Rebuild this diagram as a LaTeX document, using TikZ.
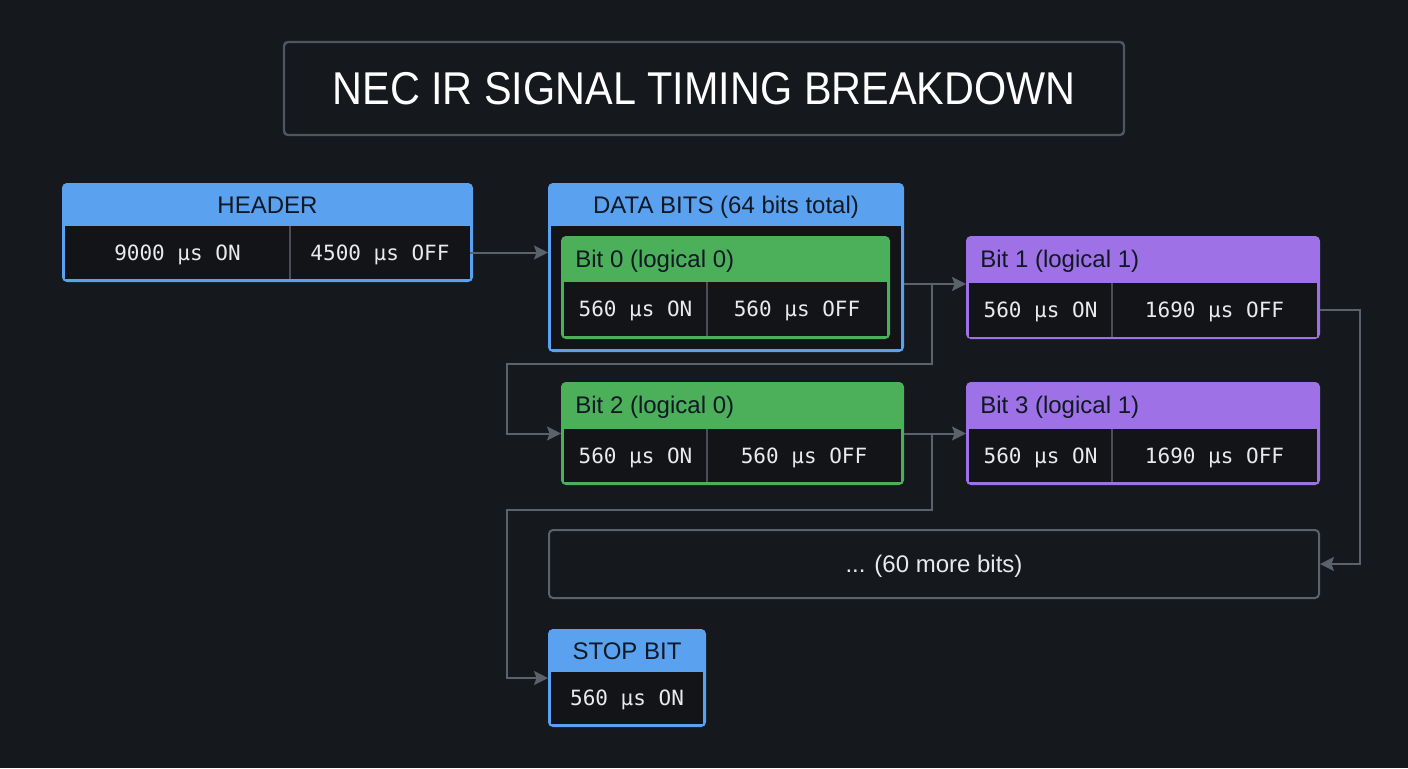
\documentclass[tikz,border=0pt]{standalone}
\usepackage{fontspec}
\setmainfont{Liberation Sans}
\newfontfamily\monof{DejaVu Sans Mono}
\usetikzlibrary{arrows.meta}
\definecolor{bgc}{RGB}{21,24,29}
\definecolor{cellc}{RGB}{18,20,23}
\definecolor{bluec}{RGB}{90,162,240}
\definecolor{greenc}{RGB}{76,175,90}
\definecolor{purplec}{RGB}{158,114,230}
\definecolor{linec}{RGB}{92,98,107}
\definecolor{titleb}{RGB}{80,86,95}
\definecolor{bandtext}{RGB}{16,24,36}
\definecolor{celltext}{RGB}{232,234,237}
\definecolor{divc}{RGB}{74,79,87}
\tikzset{
  outerbox/.style={rounded corners=2pt, line width=1pt, inner sep=0pt},
  cellbox/.style={fill=cellc, inner sep=0pt, text=celltext, text depth=0pt, font=\monof\fontsize{10.5}{12}\selectfont},
  bandlabel/.style={font=\fontsize{12}{14}\selectfont, text=bandtext, inner sep=0pt, text depth=0pt},
  divline/.style={draw=divc, line width=1pt},
  conn/.style={draw=linec, line width=1pt, -{Stealth[length=7pt,width=7pt,inset=1.3pt]}}
}
\begin{document}
\begin{tikzpicture}[x=0.5pt,y=-0.5pt]
\useasboundingbox[fill=bgc] (0,0) rectangle (1408,768);

% title
\node[outerbox, draw=titleb, line width=1.2pt, fill=bgc, minimum width=420pt, minimum height=46.5pt,
  text=white, text depth=0pt, font=\fontsize{23}{26}\selectfont] (title) at (704,88.5)
  {\scalebox{0.9}[1]{NEC IR SIGNAL TIMING BREAKDOWN}};

% HEADER
\node[outerbox, draw=bluec, fill=bluec, minimum width=204.5pt, minimum height=48.5pt] (hdr) at (267.5,232.5) {};
\node[bandlabel] (hdrT) at (267.5,205) {HEADER};
\node[cellbox, minimum width=112.5pt, minimum height=26.5pt] (hdrA) at (177.5,252.5) {9000 µs ON};
\node[cellbox, minimum width=90pt, minimum height=26.5pt] (hdrB) at (380,252.5) {4500 µs OFF};
\draw[divline] (hdrA.north east) -- (hdrA.south east);

% DATA BITS
\node[outerbox, draw=bluec, fill=bluec, minimum width=177pt, minimum height=83.5pt] (data) at (726,267.5) {};
\node[bandlabel] (dataT) at (726,205) {DATA BITS (64 bits total)};
\node[fill=cellc, inner sep=0pt, minimum width=175pt, minimum height=61.5pt] (dataIn) at (726,287.5) {};

% Bit 0
\node[outerbox, draw=greenc, fill=greenc, minimum width=163.5pt, minimum height=50.5pt] (bit0) at (725.5,287.5) {};
\node[bandlabel, anchor=west] (bit0T) at (575,259) {Bit 0 (logical 0)};
\node[cellbox, minimum width=71.5pt, minimum height=27pt] (b0A) at (635.5,309) {560 µs ON};
\node[cellbox, minimum width=90pt, minimum height=27pt] (b0B) at (797,309) {560 µs OFF};
\draw[divline] (b0A.north east) -- (b0A.south east);

% Bit 1
\node[outerbox, draw=purplec, fill=purplec, minimum width=176pt, minimum height=50.5pt] (bit1) at (1143,287.5) {};
\node[bandlabel, anchor=west] (bit1T) at (980,259) {Bit 1 (logical 1)};
\node[cellbox, minimum width=71.5pt, minimum height=27pt] (b1A) at (1040.5,310) {560 µs ON};
\node[cellbox, minimum width=102.5pt, minimum height=27pt] (b1B) at (1214.5,310) {1690 µs OFF};
\draw[divline] (b1A.north east) -- (b1A.south east);

% Bit 2
\node[outerbox, draw=greenc, fill=greenc, minimum width=170.5pt, minimum height=50.5pt] (bit2) at (732.5,433.5) {};
\node[bandlabel, anchor=west] (bit2T) at (575,405) {Bit 2 (logical 0)};
\node[cellbox, minimum width=71.5pt, minimum height=26.5pt] (b2A) at (635.5,455.5) {560 µs ON};
\node[cellbox, minimum width=97pt, minimum height=26.5pt] (b2B) at (804,455.5) {560 µs OFF};
\draw[divline] (b2A.north east) -- (b2A.south east);

% Bit 3
\node[outerbox, draw=purplec, fill=purplec, minimum width=176pt, minimum height=50.5pt] (bit3) at (1143,433.5) {};
\node[bandlabel, anchor=west] (bit3T) at (980,405) {Bit 3 (logical 1)};
\node[cellbox, minimum width=71.5pt, minimum height=26.5pt] (b3A) at (1040.5,455.5) {560 µs ON};
\node[cellbox, minimum width=102.5pt, minimum height=26.5pt] (b3B) at (1214.5,455.5) {1690 µs OFF};
\draw[divline] (b3A.north east) -- (b3A.south east);

% more bits
\node[outerbox, draw=linec, fill=bgc, minimum width=385pt, minimum height=34pt,
  text=celltext, text depth=0pt, font=\fontsize{12}{14}\selectfont] (more) at (934,564) {... (60 more bits)};

% STOP BIT
\node[outerbox, draw=bluec, fill=bluec, minimum width=78pt, minimum height=48pt] (stop) at (627,678) {};
\node[bandlabel] (stopT) at (627,651) {STOP BIT};
\node[cellbox, minimum width=76pt, minimum height=26pt] (stopA) at (627,698) {560 µs ON};

% connectors
\coordinate (j1) at (932,284);
\coordinate (c1) at (507,364);
\coordinate (r1) at (1360,310);
\coordinate (j2) at (932,433.5);
\coordinate (c2) at (507,510);

\draw[conn] (hdrB.east) -- (hdrB.east -| data.west);
\draw[conn] (data.east |- j1) -- (bit1.west |- j1);
\draw[conn] (j1) |- (c1) |- (bit2.west);
\draw[conn] (bit1.east |- r1) -- (r1) |- (more.east);
\draw[conn] (bit2.east) -- (bit3.west);
\draw[conn] (j2) |- (c2) |- (stop.west);
\end{tikzpicture}
\end{document}
